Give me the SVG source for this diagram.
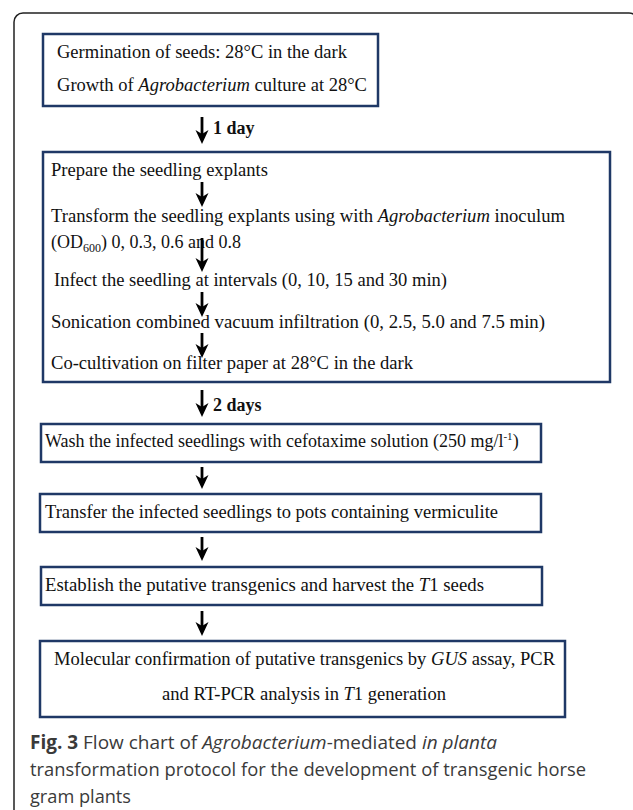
<svg xmlns="http://www.w3.org/2000/svg" width="633" height="810" viewBox="0 0 633 810">
<defs>
<style>
.box{fill:#fff;stroke:#1f3866;stroke-width:2.5}
.t{font-family:"Liberation Serif","Times New Roman",serif;font-size:18px;fill:#111}
.b{font-weight:bold}
.i{font-style:italic}
.arr{stroke:#000;stroke-width:2.8;fill:none}
.cap{font-family:"Open Sans","Noto Sans",sans-serif;font-size:19px;fill:#3a3a3a}
</style>
<marker id="ah" viewBox="0 0 14 14" refX="5" refY="7" markerWidth="14" markerHeight="14" markerUnits="userSpaceOnUse" orient="auto">
<path d="M0,0.5 L14,7 L0,13.5 L4,7 Z" fill="#000"/>
</marker>
</defs>
<rect x="0" y="0" width="633" height="810" fill="#fff"/>
<rect x="14" y="13" width="624" height="830" rx="9" fill="none" stroke="#222" stroke-width="1.5"/>

<g id="n1">
<rect class="box" x="43" y="34" width="335" height="72"/>
<text class="t" x="57" y="58" textLength="290" lengthAdjust="spacingAndGlyphs">Germination of seeds: 28°C in the dark</text>
<text class="t" x="57" y="91" textLength="310" lengthAdjust="spacingAndGlyphs">Growth of <tspan class="i">Agrobacterium</tspan> culture at 28°C</text>
</g>

<g id="n2">
<rect class="box" x="43" y="152" width="567" height="230"/>
<text class="t" x="51" y="176" textLength="217" lengthAdjust="spacingAndGlyphs">Prepare the seedling explants</text>
<text class="t" x="51" y="222" textLength="514" lengthAdjust="spacingAndGlyphs">Transform the seedling explants using with <tspan class="i">Agrobacterium</tspan> inoculum</text>
<text class="t" x="51" y="248">(OD<tspan font-size="12" dy="4">600</tspan><tspan dy="-4">) 0, 0.3, 0.6 and 0.8</tspan></text>
<text class="t" x="54" y="286" textLength="393" lengthAdjust="spacingAndGlyphs">Infect the seedling at intervals (0, 10, 15 and 30 min)</text>
<text class="t" x="51" y="328" textLength="494" lengthAdjust="spacingAndGlyphs">Sonication combined vacuum infiltration (0, 2.5, 5.0 and 7.5 min)</text>
<text class="t" x="51" y="369" textLength="362" lengthAdjust="spacingAndGlyphs">Co-cultivation on filter paper at 28°C in the dark</text>
</g>

<g id="n3">
<rect class="box" x="41" y="424" width="500" height="38"/>
<text class="t" x="45" y="447">Wash the infected seedlings with cefotaxime solution (250 mg/l<tspan font-size="11" dy="-7">-1</tspan><tspan dy="7">)</tspan></text>
</g>

<g id="n4">
<rect class="box" x="40" y="494" width="501" height="38"/>
<text class="t" x="45" y="518" textLength="453" lengthAdjust="spacingAndGlyphs">Transfer the infected seedlings to pots containing vermiculite</text>
</g>

<g id="n5">
<rect class="box" x="41" y="567" width="501" height="38"/>
<text class="t" x="45" y="591" textLength="439" lengthAdjust="spacingAndGlyphs">Establish the putative transgenics and  harvest the <tspan class="i">T</tspan>1 seeds</text>
</g>

<g id="n6">
<rect class="box" x="40" y="641" width="525" height="76"/>
<text class="t" x="54" y="665" textLength="501" lengthAdjust="spacingAndGlyphs">Molecular confirmation of putative transgenics by <tspan class="i">GUS</tspan> assay, PCR</text>
<text class="t" x="162" y="700" textLength="284" lengthAdjust="spacingAndGlyphs">and RT-PCR analysis in <tspan class="i">T</tspan>1 generation</text>
</g>

<g id="connectors">
<line class="arr" x1="202" y1="117" x2="202" y2="135" marker-end="url(#ah)"/>
<text class="t b" x="213" y="134">1 day</text>
<line class="arr" x1="202" y1="182" x2="202" y2="198" marker-end="url(#ah)"/>
<line class="arr" x1="202" y1="238" x2="202" y2="263" marker-end="url(#ah)"/>
<line class="arr" x1="202" y1="292" x2="202" y2="308" marker-end="url(#ah)"/>
<line class="arr" x1="202" y1="333" x2="202" y2="349" marker-end="url(#ah)"/>
<line class="arr" x1="202" y1="390" x2="202" y2="408" marker-end="url(#ah)"/>
<text class="t b" x="213" y="411">2 days</text>
<line class="arr" x1="202" y1="467" x2="202" y2="480" marker-end="url(#ah)"/>
<line class="arr" x1="202" y1="537" x2="202" y2="552" marker-end="url(#ah)"/>
<line class="arr" x1="202" y1="611" x2="202" y2="627" marker-end="url(#ah)"/>
</g>

<g id="caption">
<text class="cap" x="30" y="749" textLength="467" lengthAdjust="spacingAndGlyphs"><tspan font-weight="bold">Fig. 3</tspan> Flow chart of <tspan font-style="italic">Agrobacterium</tspan>-mediated <tspan font-style="italic">in planta</tspan></text>
<text class="cap" x="30" y="776" textLength="556" lengthAdjust="spacingAndGlyphs">transformation protocol for the development of transgenic horse</text>
<text class="cap" x="30" y="803" textLength="101" lengthAdjust="spacingAndGlyphs">gram plants</text>
</g>
</svg>
